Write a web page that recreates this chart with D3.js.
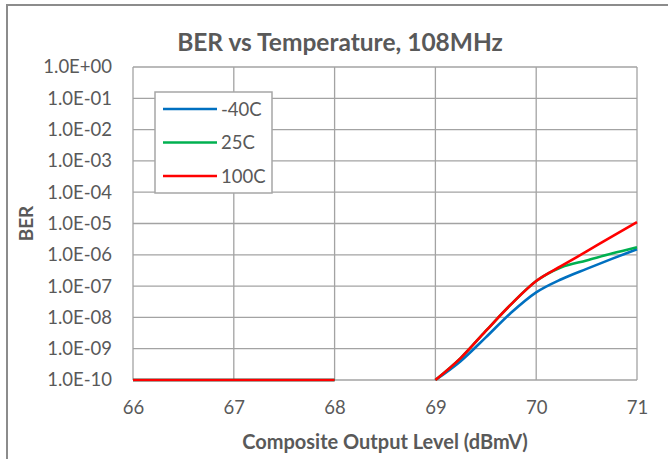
<!DOCTYPE html>
<html>
<head>
<meta charset="utf-8">
<script src="https://cdn.jsdelivr.net/npm/d3@7"></script>
<style>
  html, body { margin: 0; padding: 0; background: #fff; }
  svg { display: block; }
  text { font-family: Lato, "Open Sans", sans-serif; fill: #595959; }
</style>
</head>
<body>
<svg id="chart" width="668" height="459"></svg>
<script>
// Composite output level (dBmV) on the x axis
const xTicks = [66, 67, 68, 69, 70, 71];
// Decades shown on the BER axis
const yTicks = [1e0, 1e-1, 1e-2, 1e-3, 1e-4, 1e-5, 1e-6, 1e-7, 1e-8, 1e-9, 1e-10];
const yTickLabels = ["1.0E+00", "1.0E-01", "1.0E-02", "1.0E-03", "1.0E-04", "1.0E-05",
                     "1.0E-06", "1.0E-07", "1.0E-08", "1.0E-09", "1.0E-10"];

// Error-free floor (no errors counted) from 66 to 68 dBmV
const floorLevels = [66, 67, 68];
const floorBer = [1e-10, 1e-10, 1e-10];

// Measured region from 69 to 71 dBmV
const levels = [69, 69.25, 69.5, 69.75, 70, 70.25, 70.5, 70.75, 71];
const berM40 = [1e-10, 4.0e-10, 2.3e-9, 1.4e-8, 6.3e-8, 1.66e-7, 3.55e-7, 7.4e-7, 1.5e-6];
const ber25 = [1e-10, 5.0e-10, 3.7e-9, 2.6e-8, 1.45e-7, 4.0e-7, 6.6e-7, 1.1e-6, 1.75e-6];
const ber100 = [1e-10, 5.0e-10, 3.7e-9, 2.6e-8, 1.45e-7, 4.4e-7, 1.29e-6, 3.8e-6, 1.1e-5];

const seriesNames = ["-40C", "25C", "100C"];
const seriesColors = ["#0070c0", "#00b050", "#ff0000"];
const seriesValues = [berM40, ber25, ber100];

const svg = d3.select("#chart");
const plot = { left: 133, top: 67, right: 637, bottom: 380 };

const x = d3.scaleLinear().domain([66, 71]).range([plot.left, plot.right]);
const y = d3.scaleLog().domain([1e-10, 1]).range([plot.bottom, plot.top]);

// Outer chart frame (left and top edges)
svg.append("path")
  .attr("d", "M7,459 V5 H668")
  .attr("fill", "none")
  .attr("stroke", "#8c8c8c")
  .attr("stroke-width", 2);

// Title
svg.append("text")
  .attr("x", 340).attr("y", 51)
  .attr("text-anchor", "middle")
  .attr("font-size", 24.5).attr("font-weight", "bold")
  .text("BER vs Temperature, 108MHz");

// Gridlines
const grid = svg.append("g").attr("stroke", "#a3a3a3").attr("stroke-width", 1.3);
grid.selectAll("line.h").data(yTicks).join("line")
  .attr("x1", plot.left).attr("x2", plot.right)
  .attr("y1", d => y(d)).attr("y2", d => y(d));
grid.selectAll("line.v").data(xTicks).join("line")
  .attr("y1", plot.top).attr("y2", plot.bottom)
  .attr("x1", d => x(d)).attr("x2", d => x(d));

// Axes
const yAxis = d3.axisLeft(y).tickValues(yTicks)
  .tickFormat((d, i) => yTickLabels[i]).tickSize(0).tickPadding(21);
const gy = svg.append("g").attr("transform", `translate(${plot.left},0)`).call(yAxis);
gy.select(".domain").remove();
gy.selectAll("text").attr("font-size", 18.5).attr("fill", "#595959")
  .attr("font-family", "Lato, 'Open Sans', sans-serif");

const xAxis = d3.axisBottom(x).tickValues(xTicks).tickFormat(d3.format("d"))
  .tickSize(0).tickPadding(21);
const gx = svg.append("g").attr("transform", `translate(0,${plot.bottom})`).call(xAxis);
gx.select(".domain").remove();
gx.selectAll("text").attr("font-size", 18.5).attr("fill", "#595959")
  .attr("font-family", "Lato, 'Open Sans', sans-serif");

// Axis titles
svg.append("text")
  .attr("transform", `translate(33,${(plot.top + plot.bottom) / 2}) rotate(-90)`)
  .attr("text-anchor", "middle")
  .attr("font-size", 19).attr("font-weight", "bold")
  .text("BER");
svg.append("text")
  .attr("x", (plot.left + plot.right) / 2).attr("y", 449)
  .attr("text-anchor", "middle")
  .attr("font-size", 20).attr("font-weight", "bold")
  .text("Composite Output Level (dBmV)");

// Series lines
const line = d3.line()
  .x(d => x(d[0])).y(d => y(d[1]))
  .curve(d3.curveMonotoneX);
const lines = svg.append("g").attr("fill", "none").attr("stroke-width", 2.6);
seriesValues.forEach((vals, i) => {
  lines.append("path")
    .attr("d", line(floorLevels.map((lv, j) => [lv, floorBer[j]])))
    .attr("stroke", seriesColors[i]);
  lines.append("path")
    .attr("d", line(levels.map((lv, j) => [lv, vals[j]])))
    .attr("stroke", seriesColors[i]);
});

// Legend
const legend = svg.append("g");
legend.append("rect")
  .attr("x", 155).attr("y", 92).attr("width", 117).attr("height", 101)
  .attr("fill", "#fff").attr("stroke", "#a6a6a6").attr("stroke-width", 1.5);
seriesNames.forEach((name, i) => {
  const ly = 109 + i * 33.5;
  legend.append("line")
    .attr("x1", 163).attr("x2", 217).attr("y1", ly).attr("y2", ly)
    .attr("stroke", seriesColors[i]).attr("stroke-width", 2.6);
  legend.append("text")
    .attr("x", 221).attr("y", ly + 6.5)
    .attr("font-size", 18.5)
    .text(name);
});
</script>
</body>
</html>
